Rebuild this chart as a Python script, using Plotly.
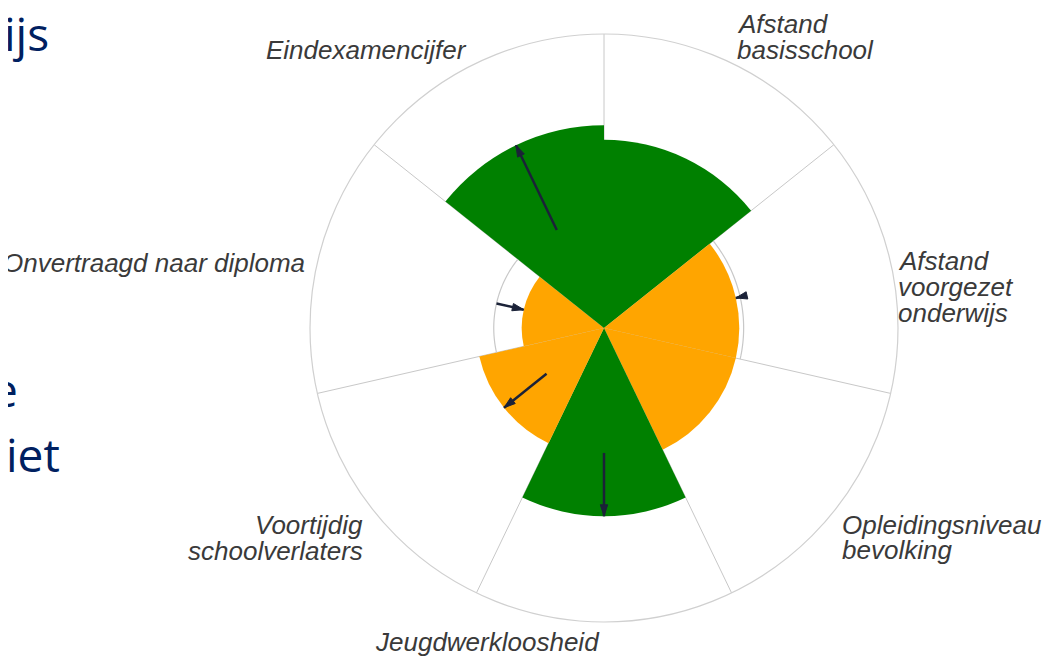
import numpy as np
import plotly.graph_objects as go

# ---------------- data ----------------
categories = ["Afstand basisschool", "Afstand voorgezet onderwijs", "Opleidingsniveau bevolking",
              "Jeugdwerkloosheid", "Voortijdig schoolverlaters", "Onvertraagd naar diploma",
              "Eindexamencijfer"]
current_values = [64, 46, 46, 64, 43.5, 28, 69]
previous_values = [64, 47.5, 46, 42.5, 25, 37.5, 37]
bar_colors = ["#008000", "#FFA500", "#FFA500", "#008000", "#FFA500", "#FFA500", "#008000"]
slide_fragments = ["ijs", "e", "iet"]

# page is 1052x657 but the html body has an 8px margin
OFF = 8
W, H = 1052 - OFF, 657 - OFF
CX, CY, R = 604 - OFF, 328 - OFF, 294
n = len(categories)
sector = 360 / n
centers = [sector * (i + 0.5) for i in range(n)]
bounds = [sector * i for i in range(n)]
ARROW = "#1b2238"

fig = go.Figure()

fig.add_trace(go.Barpolar(r=current_values, theta=centers, width=[sector] * n,
                          marker=dict(color=bar_colors, line=dict(width=0)),
                          text=categories, hoverinfo="text+r", showlegend=False))

# previous-value arcs (only visible outside the bars)
for i in range(n):
    if previous_values[i] > current_values[i]:
        th = np.linspace(bounds[i], bounds[i] + sector, 40)
        fig.add_trace(go.Scatterpolar(r=[previous_values[i]] * len(th), theta=th, mode="lines",
                                      line=dict(color="#c8c8c8", width=1.2), hoverinfo="skip",
                                      showlegend=False))

# change arrows
for i in range(n):
    p, c = previous_values[i], current_values[i]
    if p == c:
        continue
    ang = centers[i] if c > p else centers[i] + 180
    fig.add_trace(go.Scatterpolar(r=[p, c], theta=[centers[i], centers[i]], mode="lines",
                                  line=dict(color=ARROW, width=2.5),
                                  hoverinfo="skip", showlegend=False))
    fig.add_trace(go.Scatterpolar(r=[c], theta=[centers[i]], mode="markers",
                                  marker=dict(symbol="arrow", size=12, angle=ang,
                                              color=ARROW, line=dict(color=ARROW, width=1)),
                                  hoverinfo="skip", showlegend=False))

fig.update_layout(
    width=W, height=H, margin=dict(l=0, r=0, t=0, b=0),
    paper_bgcolor="white", plot_bgcolor="white", showlegend=False,
    polar=dict(
        domain=dict(x=[(CX - R) / W, (CX + R) / W], y=[(H - CY - R) / H, (H - CY + R) / H]),
        bgcolor="white", bargap=0,
        angularaxis=dict(rotation=90, direction="clockwise", tickmode="array", tickvals=bounds,
                         showticklabels=False, ticks="", showgrid=True, gridcolor="#c8c8c8",
                         gridwidth=1, showline=True, linecolor="#d0d0d0", linewidth=1.2,
                         layer="above traces"),
        radialaxis=dict(range=[0, 100], showticklabels=False, ticks="", showgrid=False,
                        showline=False),
    ),
)

LBL = dict(family="Liberation Sans, Arial, sans-serif", size=26, color="#3a3a3a")


def label(text, px, py, anchor):
    fig.add_annotation(text="<i>" + text + "</i>", x=(px - OFF) / W, y=1 - (py - OFF) / H,
                       xref="paper", yref="paper", xanchor=anchor, yanchor="middle",
                       showarrow=False, font=LBL)


# category labels (line by line), reference page pixels
label("Afstand", 735, 24, "left")
label("basisschool", 735, 50, "left")
label("Afstand", 896, 261, "left")
label("voorgezet", 896, 287, "left")
label("onderwijs", 896, 313, "left")
label("Opleidingsniveau", 840, 525, "left")
label("bevolking", 840, 550, "left")
label("Jeugdwerkloosheid", 487, 642, "center")
label("Voortijdig", 365, 525, "right")
label("schoolverlaters", 365, 551, "right")
label("Onvertraagd naar diploma", 307, 263, "right")
label("Eindexamencijfer", 469, 50, "right")

# clipped slide text on the left
SL = dict(family="Open Sans, sans-serif", size=46, color="#002060")
for txt, px, py in zip(slide_fragments, [51, 20, 62], [33, 389, 454]):
    fig.add_annotation(text=txt, x=(px - OFF) / W, y=1 - (py - OFF) / H, xref="paper",
                       yref="paper", xanchor="right", yanchor="middle", showarrow=False,
                       font=SL)

fig.write_html("out.html")
